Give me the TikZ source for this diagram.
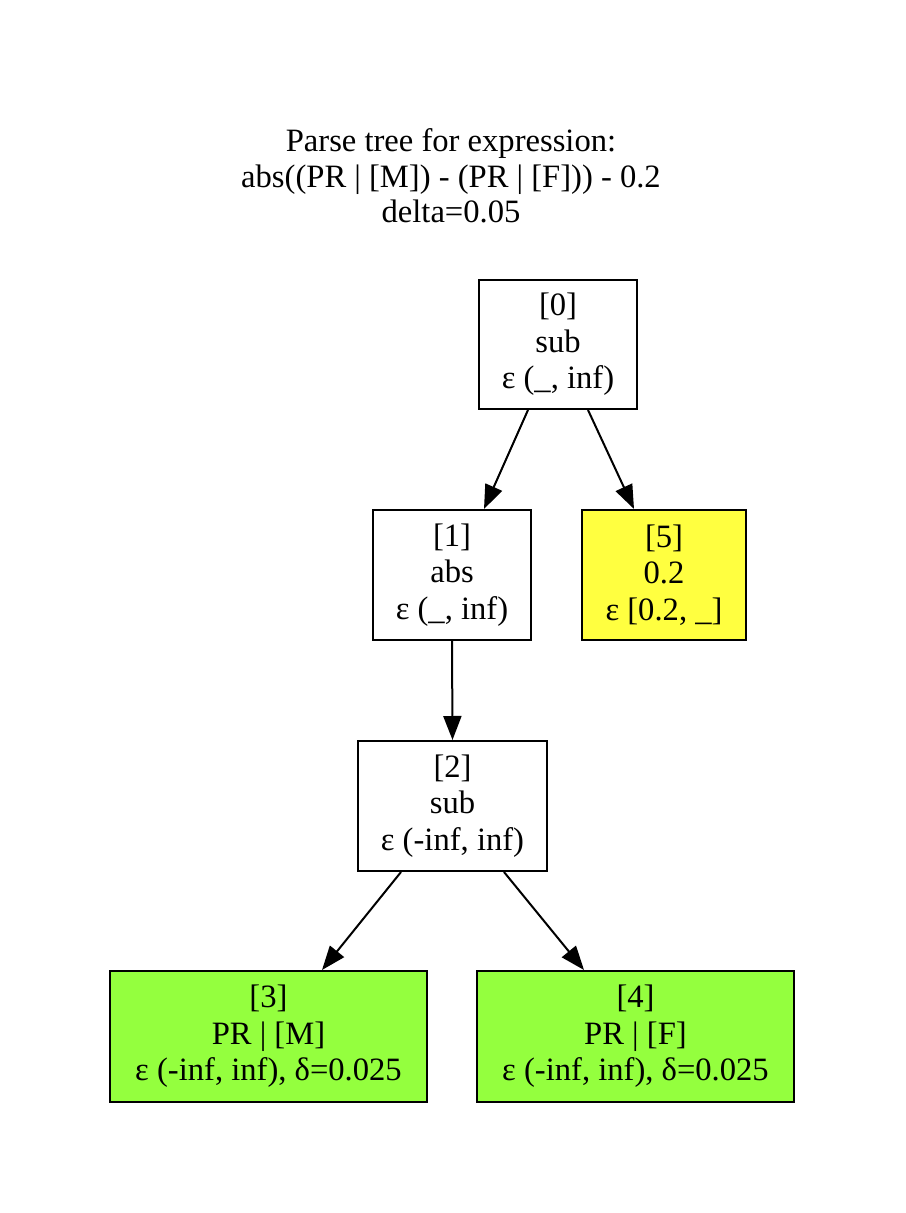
\documentclass[tikz,border=0pt]{standalone}
\usepackage{fontspec}
\setmainfont{Liberation Serif}
\usetikzlibrary{arrows.meta}
\definecolor{nodeyellow}{RGB}{255,255,64}
\definecolor{nodegreen}{RGB}{148,255,62}
\tikzset{
  treebox/.style={draw=black, line width=1pt, align=center, inner sep=0pt,
    font=\fontsize{16.3pt}{18.3pt}\selectfont},
  arr/.style={line width=1pt, -{Triangle[length=12pt,width=9pt]}},
  titletext/.style={align=center, inner sep=0pt, font=\fontsize{16.3pt}{17.8pt}\selectfont}
}
\begin{document}
\begin{tikzpicture}[x=0.5pt,y=-0.5pt]
\useasboundingbox (0,0) rectangle (905,1213);
\node[titletext] (title) at (451,176) {Parse tree for expression:\\abs((PR | [M]) - (PR | [F])) - 0.2\\delta=0.05};
\node[treebox, minimum width=79pt, minimum height=64.5pt] (n0) at (558,344.5) {[0]\\sub\\ε (\_, inf)};
\node[treebox, minimum width=79pt, minimum height=65pt] (n1) at (452,575) {[1]\\abs\\ε (\_, inf)};
\node[treebox, fill=nodeyellow, minimum width=82pt, minimum height=65pt] (n5) at (664,575) {[5]\\0.2\\ε [0.2, \_]};
\node[treebox, minimum width=94.5pt, minimum height=65pt] (n2) at (452.5,806) {[2]\\sub\\ε (-inf, inf)};
\node[treebox, fill=nodegreen, minimum width=158.5pt, minimum height=65.5pt] (n3) at (268.5,1036.5) {[3]\\PR | [M]\\ε (-inf, inf), δ=0.025};
\node[treebox, fill=nodegreen, minimum width=158.5pt, minimum height=65.5pt] (n4) at (635.5,1036.5) {[4]\\PR | [F]\\ε (-inf, inf), δ=0.025};
\draw[arr] ([xshift=-15pt]n0.south) -- ([xshift=16pt]n1.north);
\draw[arr] ([xshift=15pt]n0.south) -- ([xshift=-15pt]n5.north);
\draw[arr] (n1.south) -- (n2.north);
\draw[arr] ([xshift=-25.75pt]n2.south) -- ([xshift=26.75pt]n3.north);
\draw[arr] ([xshift=25.75pt]n2.south) -- ([xshift=-25.75pt]n4.north);
\end{tikzpicture}
\end{document}
